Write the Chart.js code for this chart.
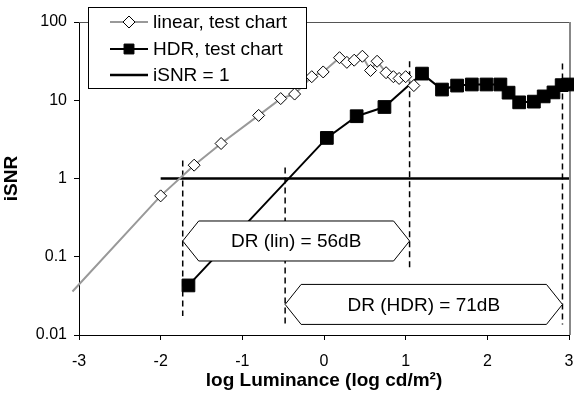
<!DOCTYPE html>
<html>
<head>
<meta charset="utf-8">
<script src="https://cdn.jsdelivr.net/npm/chart.js@4.4.0/dist/chart.umd.min.js"></script>
<style>
body { margin: 0; background: #fff; }
</style>
</head>
<body>
<canvas id="grafico" width="574" height="394"></canvas>
<script>
var fonte = '"Liberation Sans", Arial, sans-serif';

// linear, test chart (first point = line extension, no marker)
var linX = [-3.08, -2.0, -1.59, -1.26, -0.80, -0.53, -0.36, -0.15, -0.01, 0.19, 0.28, 0.37, 0.47, 0.57, 0.65, 0.76, 0.85, 0.92, 1.0, 1.1];
var linY = [0.036, 0.6, 1.48, 2.8, 6.4, 10.5, 12, 20, 23, 35, 30.5, 32.5, 36.5, 24, 31.5, 22.5, 20, 19, 20, 15.4];

// HDR, test chart
var hdrX = [-1.66, 0.035, 0.40, 0.74, 1.2, 1.445, 1.63, 1.81, 1.99, 2.16, 2.26, 2.39, 2.57, 2.69, 2.81, 2.91, 2.99];
var hdrY = [0.043, 3.3, 6.25, 8.2, 21.9, 13.7, 15.4, 15.9, 15.9, 15.9, 12.5, 9.4, 9.6, 11.2, 12.6, 15.6, 15.9];

// iSNR = 1
var isnrX = [-2, 3];
var isnrY = [1, 1];

// linhas tracejadas (limites do DR)
var tracoX = [-1.73, -0.476, 1.048, 2.92];
var tracoTopo = [1.7, 1.38, 31.5, 29.4];
var tracoBase = [0.0175, 0.0136, 0.067, 0.0136];

// setas com o texto do DR
var drTexto = ['DR (lin) = 56dB', 'DR (HDR) = 71dB'];
var drDe = [-1.73, -0.476];
var drAte = [1.048, 2.92];
var drY = [0.159, 0.0246];

var xTicks = [-3, -2, -1, 0, 1, 2, 3];
var yTicks = [0.01, 0.1, 1, 10, 100];

function pontos(xs, ys) {
    return xs.map(function (v, i) { return { x: v, y: ys[i] }; });
}

var datasets = [
    {
        label: 'linear, test chart',
        data: pontos(linX, linY),
        borderColor: '#999999',
        borderWidth: 2,
        pointStyle: 'rectRot',
        pointRadius: function (c) { return c.dataIndex === 0 ? 0 : 6; },
        pointBackgroundColor: '#fff',
        pointBorderColor: '#000',
        pointBorderWidth: 1,
        clip: false
    },
    {
        label: 'HDR, test chart',
        data: pontos(hdrX, hdrY),
        borderColor: '#000',
        borderWidth: 2,
        pointStyle: 'rect',
        pointRadius: 9,
        pointBackgroundColor: '#000',
        pointBorderColor: '#000',
        pointBorderWidth: 1,
        clip: false
    },
    {
        label: 'iSNR = 1',
        data: pontos(isnrX, isnrY),
        borderColor: '#000',
        borderWidth: 2.5,
        pointRadius: 0
    }
];

for (var i = 0; i < tracoX.length; i++) {
    datasets.push({
        label: '',
        data: [{ x: tracoX[i], y: tracoTopo[i] }, { x: tracoX[i], y: tracoBase[i] }],
        borderColor: '#000',
        borderWidth: 1.5,
        borderDash: [6, 4],
        pointRadius: 0
    });
}

var raioLegenda = [6, 7, 0];

var molduraPlugin = {
    id: 'moldura',
    beforeDatasetsDraw: function (chart) {
        var ctx = chart.ctx, a = chart.chartArea;
        ctx.save();
        ctx.strokeStyle = '#555';
        ctx.lineWidth = 1;
        ctx.beginPath();
        ctx.moveTo(a.left, a.top + 0.5);
        ctx.lineTo(a.right, a.top + 0.5);
        ctx.stroke();
        ctx.strokeStyle = '#888';
        ctx.lineWidth = 2;
        ctx.beginPath();
        ctx.moveTo(a.right + 1, a.top);
        ctx.lineTo(a.right + 1, a.bottom);
        ctx.stroke();
        ctx.restore();
    },
    afterDatasetsDraw: function (chart) {
        var ctx = chart.ctx, sx = chart.scales.x, sy = chart.scales.y;
        ctx.save();
        for (var i = 0; i < drTexto.length; i++) {
            var x1 = sx.getPixelForValue(drDe[i]);
            var x2 = sx.getPixelForValue(drAte[i]);
            var yc = sy.getPixelForValue(drY[i]);
            var h = 20, p = 16;
            ctx.beginPath();
            ctx.moveTo(x1, yc);
            ctx.lineTo(x1 + p, yc - h);
            ctx.lineTo(x2 - p, yc - h);
            ctx.lineTo(x2, yc);
            ctx.lineTo(x2 - p, yc + h);
            ctx.lineTo(x1 + p, yc + h);
            ctx.closePath();
            ctx.fillStyle = '#fff';
            ctx.fill();
            ctx.strokeStyle = '#000';
            ctx.lineWidth = 1;
            ctx.stroke();
            ctx.fillStyle = '#000';
            ctx.font = '19px ' + fonte;
            ctx.textAlign = 'center';
            ctx.textBaseline = 'middle';
            ctx.fillText(drTexto[i], (x1 + x2) / 2, yc + 1);
        }
        ctx.restore();
    },
    afterDraw: function (chart) {
        // legenda desenhada a mao, sobreposta ao grafico
        var ctx = chart.ctx;
        ctx.save();
        ctx.fillStyle = '#fff';
        ctx.fillRect(88, 7, 218, 81);
        ctx.strokeStyle = '#000';
        ctx.lineWidth = 1;
        ctx.strokeRect(88.5, 7.5, 218, 81);
        var linhas = [22, 49, 75];
        for (var i = 0; i < 3; i++) {
            var ds = chart.data.datasets[i];
            var y = linhas[i];
            ctx.strokeStyle = ds.borderColor;
            ctx.lineWidth = ds.borderWidth;
            ctx.setLineDash([]);
            ctx.beginPath();
            ctx.moveTo(110, y);
            ctx.lineTo(148, y);
            ctx.stroke();
            if (raioLegenda[i] > 0) {
                ctx.fillStyle = ds.pointBackgroundColor;
                ctx.strokeStyle = ds.pointBorderColor;
                ctx.lineWidth = 1;
                Chart.helpers.drawPoint(ctx, { pointStyle: ds.pointStyle, radius: raioLegenda[i], rotation: 0, borderWidth: 1 }, 129, y);
            }
            ctx.fillStyle = '#000';
            ctx.font = '19px ' + fonte;
            ctx.textAlign = 'left';
            ctx.textBaseline = 'middle';
            ctx.fillText(ds.label, 153, y + 1);
        }
        ctx.restore();
    }
};

var ctx = document.getElementById('grafico').getContext('2d');
var myChart = new Chart(ctx, {
    type: 'line',
    data: { datasets: datasets },
    plugins: [molduraPlugin],
    options: {
        responsive: false,
        animation: false,
        events: [],
        layout: { autoPadding: false, padding: { top: 22, right: 5, left: 0, bottom: 0 } },
        plugins: { legend: { display: false }, tooltip: { enabled: false } },
        scales: {
            x: {
                type: 'linear',
                min: -3,
                max: 3,
                afterBuildTicks: function (s) { s.ticks = xTicks.map(function (v) { return { value: v }; }); },
                afterFit: function (s) { s.height = 59; s.paddingLeft = 0; s.paddingRight = 0; },
                grid: { drawOnChartArea: false, tickLength: 5, color: '#000' },
                border: { color: '#000', width: 1 },
                ticks: { color: '#000', font: { size: 16, family: fonte }, padding: 12, maxRotation: 0 },
                title: {
                    display: true,
                    text: 'log Luminance (log cd/m²)',
                    color: '#000',
                    font: { size: 19, weight: 'bold', family: fonte },
                    padding: { top: 0, bottom: 2 }
                }
            },
            y: {
                type: 'logarithmic',
                min: 0.01,
                max: 100,
                afterBuildTicks: function (s) { s.ticks = yTicks.map(function (v) { return { value: v }; }); },
                afterFit: function (s) { s.width = 79; s.paddingTop = 0; s.paddingBottom = 0; },
                grid: { drawOnChartArea: false, tickLength: 5, color: '#000' },
                border: { color: '#000', width: 1 },
                ticks: {
                    color: '#000',
                    font: { size: 16, family: fonte },
                    padding: 7,
                    callback: function (v) { return String(v); }
                },
                title: {
                    display: true,
                    text: 'iSNR',
                    color: '#000',
                    font: { size: 19, weight: 'bold', family: fonte },
                    padding: { top: 0, bottom: 0 }
                }
            }
        }
    }
});
</script>
</body>
</html>
